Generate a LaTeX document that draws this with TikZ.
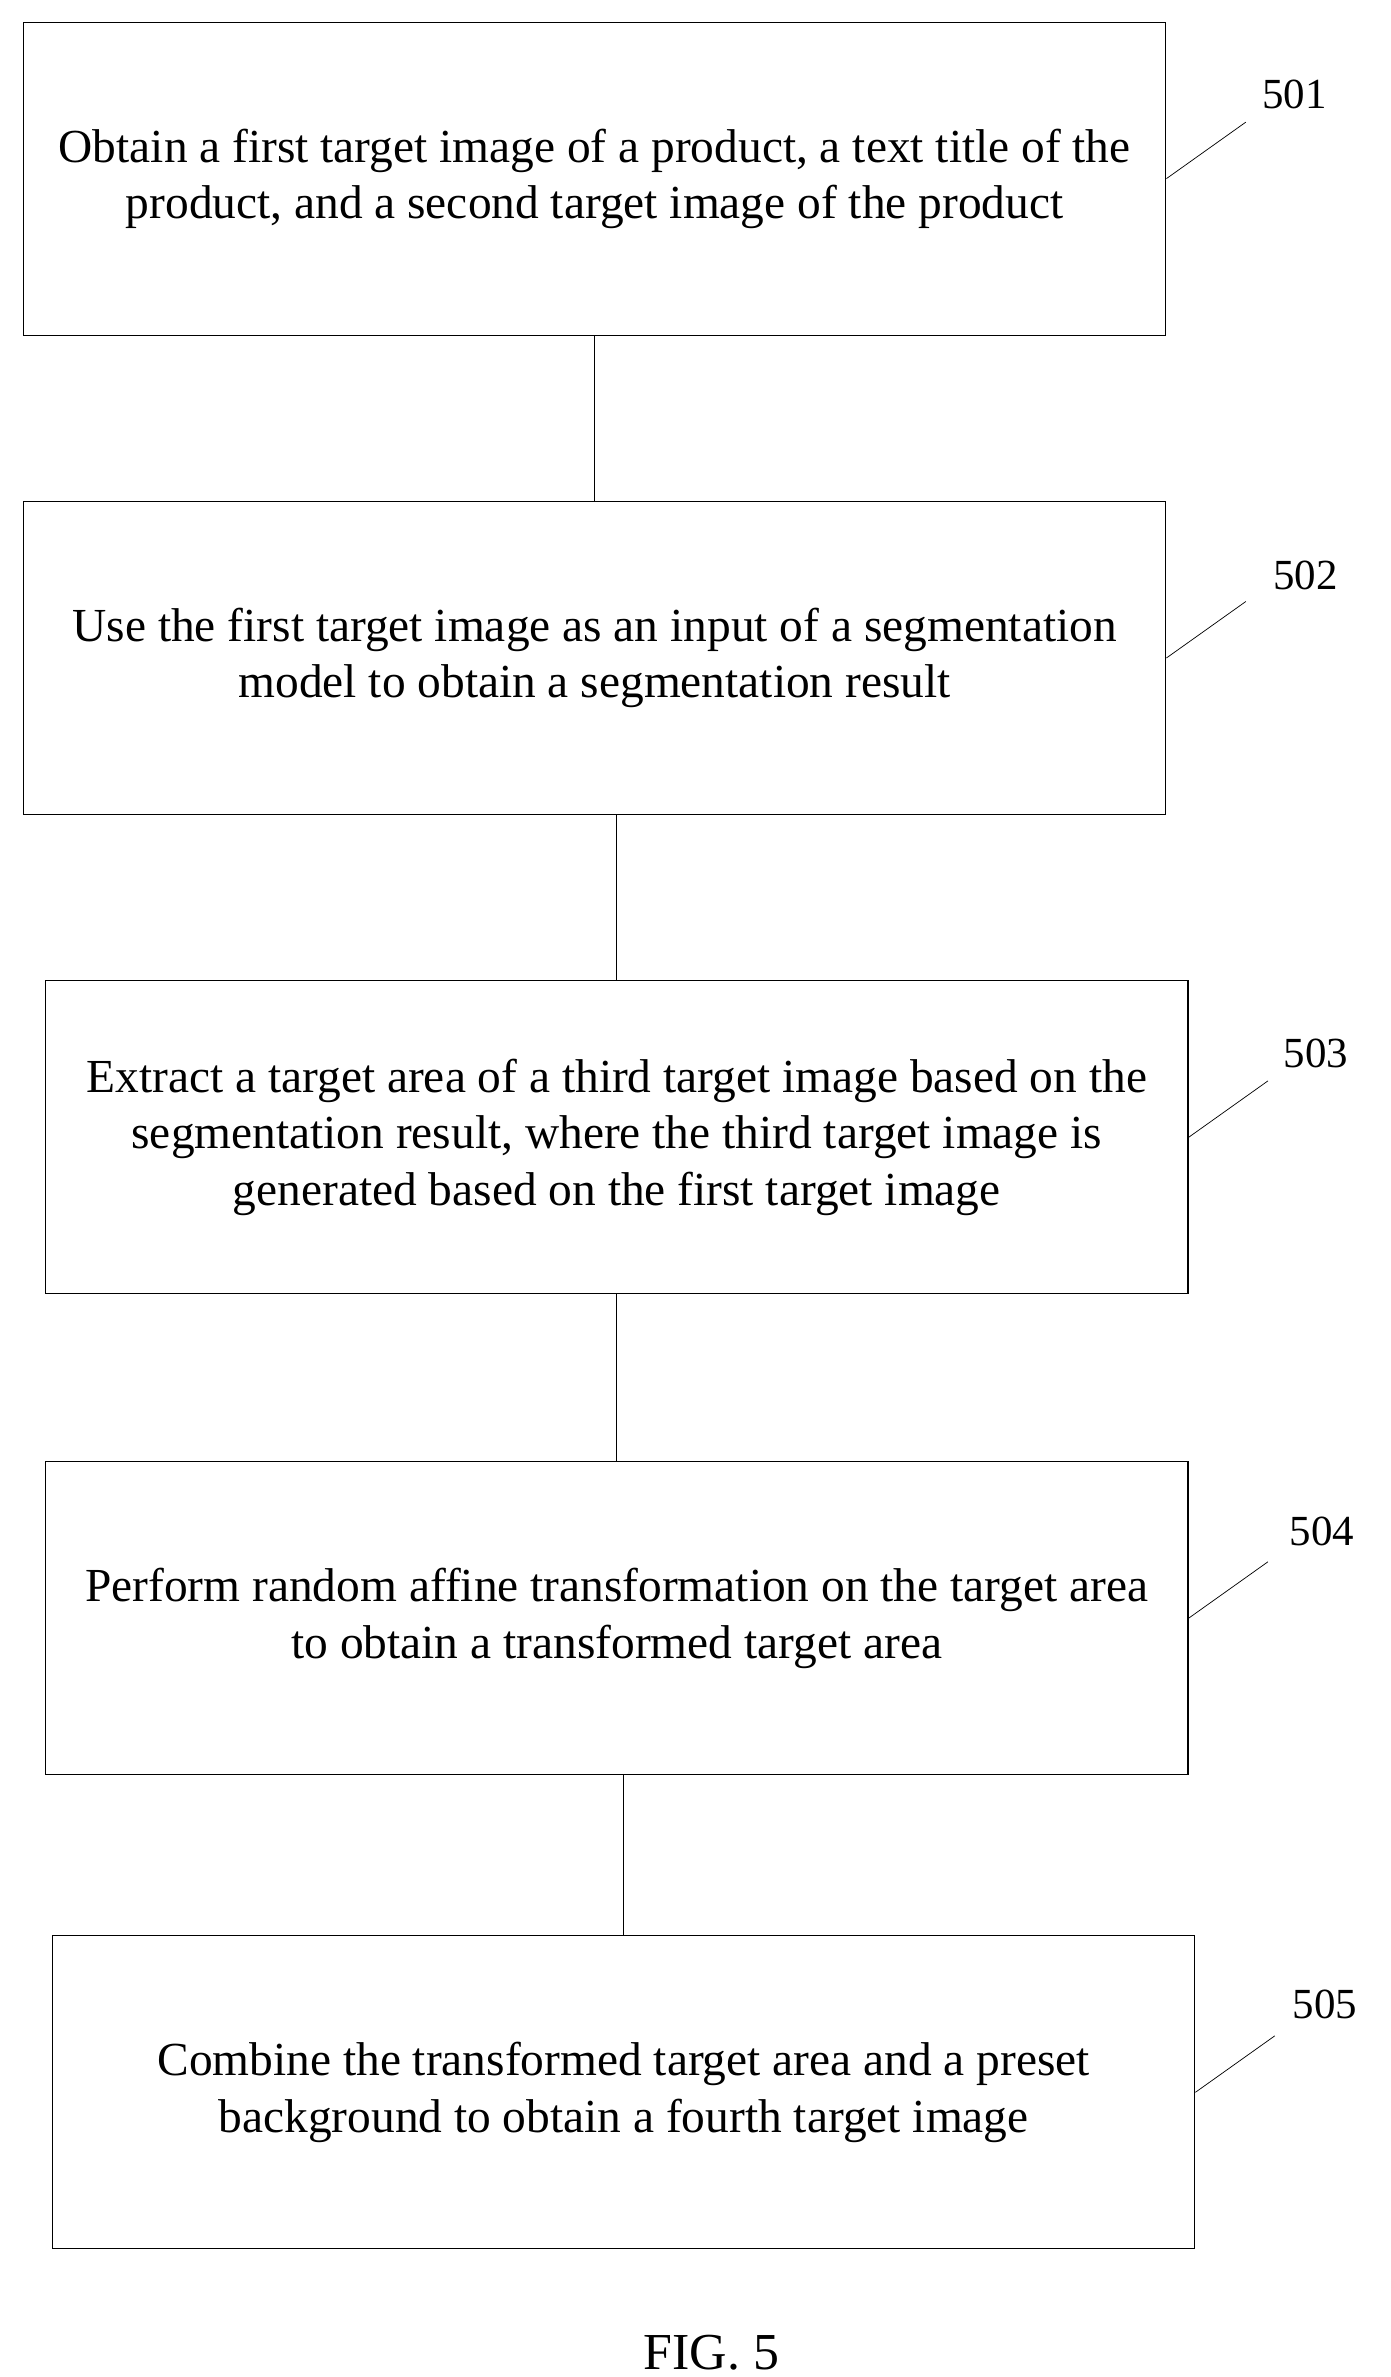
\documentclass[tikz,border=0pt]{standalone}
\usepackage{fontspec}
\setmainfont{Liberation Serif}
\usetikzlibrary{positioning,calc}
\begin{document}
\begin{tikzpicture}[x=0.03cm,y=-0.03cm,
    stepbox/.style={draw,semithick,minimum width=22.45cm,minimum height=6.15cm,align=center,
        font=\fontsize{26.5}{31.5}\selectfont,inner sep=0pt},
    lbl/.style={font=\fontsize{24}{28}\selectfont}]
        \useasboundingbox (0,0) rectangle (911,1557);
        \node[stepbox] (s1) at (389.5,117) {Obtain a first target image of a product, a text title of the\\product, and a second target image of the product};
        \node[stepbox] (s2) at (389.5,431) {Use the first target image as an input of a segmentation\\model to obtain a segmentation result};
        \node[stepbox] (s3) at (404,745) {Extract a target area of a third target image based on the\\segmentation result, where the third target image is\\generated based on the first target image};
        \node[stepbox] (s4) at (404,1060) {Perform random affine transformation on the target area\\to obtain a transformed target area};
        \node[stepbox] (s5) at (408.5,1370.5) {Combine the transformed target area and a preset\\background to obtain a fourth target image};
        % step numbers
        \node[lbl] (n1) at (848,62) {501};
        \node[lbl] (n2) at (855,377) {502};
        \node[lbl] (n3) at (862,690) {503};
        \node[lbl] (n4) at (866,1003) {504};
        \node[lbl] (n5) at (868,1313) {505};
        \foreach \i in {1,...,5}
            \draw (s\i.east) -- ++(52,-37);
        % connectors
        \draw (s1.south) -- (s2.north);
        \draw (s3.north) -- (s3.north |- s2.south);
        \draw (s3.south) -- (s4.north);
        \draw (s5.north) -- (s5.north |- s4.south);
        \node[font=\fontsize{29}{34}\selectfont] (fig) at (466,1541) {FIG. 5};
    \end{tikzpicture}
\end{document}
